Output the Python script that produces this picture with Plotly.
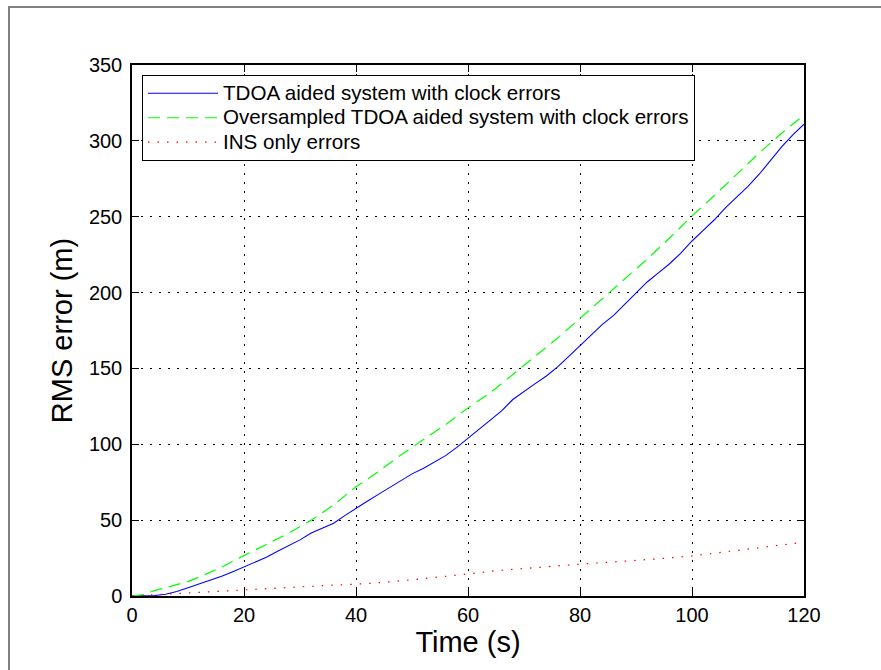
import plotly.graph_objects as go

# ---- data ----
t_blue = [0, 2, 4, 6, 8, 10, 12, 14, 16, 18, 20, 22, 24, 26, 28, 30, 32, 34, 36, 38, 40,
          42, 44, 46, 48, 50, 52, 54, 56, 58, 60, 62, 64, 66, 68, 70, 72, 74, 76, 78, 80,
          82, 84, 86, 88, 90, 92, 94, 96, 98, 100, 102, 104, 106, 108, 110, 112, 114, 116, 118, 120]
tdoa = [0, 0, 0.3, 1.2, 3, 5.5, 8, 10, 13, 16, 19, 22, 25.5, 29.5, 33, 37, 41.5, 45, 48, 53, 58,
        62.5, 67, 71.5, 76.5, 80.5, 84, 88, 92.5, 98, 104, 110, 116, 122, 129.5, 135, 140, 145, 151, 158, 165,
        172, 179, 185, 192.5, 200, 207, 213, 219, 226, 234, 241, 248, 256, 263, 270, 278, 287, 296, 304, 311]

t_green = [0, 2, 4, 6, 8, 10, 12, 14, 16, 18, 20, 24, 28, 32, 36, 40, 44, 48, 52, 56, 60,
           64, 68, 72, 76, 80, 84, 88, 92, 96, 100, 104, 108, 112, 116, 120]
oversampled = [0, 1, 3.5, 5.5, 7.5, 9.5, 12.5, 15.5, 19, 23, 26.5, 34, 41.5, 50, 60, 72, 82, 93, 103, 113, 124,
               134, 146, 158, 170, 183, 196, 209, 222, 236, 250.5, 264, 278, 292, 305, 317]

t_red = [0, 5, 10, 15, 20, 25, 30, 35, 40, 45, 50, 55, 60, 65, 70, 75, 80, 85, 90, 95, 100, 105, 110, 115, 120]
ins_only = [0, 1, 2, 3, 4.3, 5.2, 6, 7, 7.8, 9, 10.7, 12.5, 14.5, 16.7, 18.3, 19.7, 21, 22.2, 23.3, 24.8,
            26.4, 28.5, 31, 33.2, 35.5]

names = ["TDOA aided system with clock errors",
         "Oversampled TDOA aided system with clock errors",
         "INS only errors"]

FONT = "Liberation Sans, Arial, Helvetica, sans-serif"


def legend_label(s):
    return '<span style="font-size:20.6px">' + s + '</span>'


fig = go.Figure()
fig.add_trace(go.Scatter(x=t_blue, y=tdoa, mode="lines", name=legend_label(names[0]),
                         line=dict(color="#0000ff", width=1.1)))
fig.add_trace(go.Scatter(x=t_green, y=oversampled, mode="lines", name=legend_label(names[1]),
                         line=dict(color="#00ff00", width=1.2, dash="12px,7px")))
fig.add_trace(go.Scatter(x=t_red, y=ins_only, mode="lines", name=legend_label(names[2]),
                         line=dict(color="#ff0000", width=1.2, dash="1.5px,8px")))

axis_common = dict(
    showline=True, linecolor="black", linewidth=1.5, mirror="ticks",
    ticks="inside", ticklen=7, tickwidth=1, tickcolor="black",
    showgrid=True, gridcolor="black", gridwidth=1, griddash="1.5px,7.5px",
    zeroline=False, automargin=False,
    tickfont=dict(family=FONT, size=20, color="black"),
)

fig.update_xaxes(range=[0, 120], dtick=20, tick0=0, ticklabelstandoff=0,
                 title=dict(text="Time (s)", font=dict(family=FONT, size=29, color="black"), standoff=1),
                 **axis_common)
fig.update_yaxes(range=[0, 350], dtick=50, tick0=0, ticklabelstandoff=4,
                 title=dict(text="RMS error (m)", font=dict(family=FONT, size=29, color="black"), standoff=8),
                 **axis_common)

fig.update_layout(
    width=881, height=670,
    margin=dict(l=132, r=77, t=65, b=74),
    paper_bgcolor="white", plot_bgcolor="white",
    font=dict(family=FONT, color="black"),
    showlegend=True,
    legend=dict(x=0.0149, y=0.981, xanchor="left", yanchor="top",
                bgcolor="white", bordercolor="black", borderwidth=1,
                font=dict(family=FONT, size=16.5, color="black"),
                itemwidth=70, tracegroupgap=0),
    shapes=[dict(type="rect", xref="paper", yref="paper",
                 x0=(9 - 132) / 672, x1=1.3, y0=-0.3, y1=1 + (65 - 7) / 531,
                 line=dict(color="#808080", width=2), fillcolor="rgba(0,0,0,0)", layer="below")],
)

fig.write_html("out.html")
